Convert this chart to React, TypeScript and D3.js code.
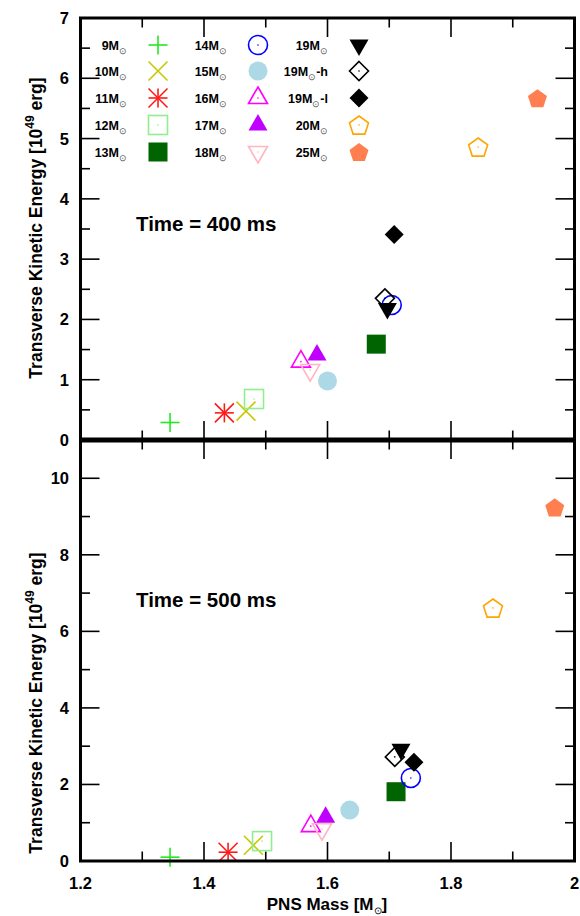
import React from "react";
import * as d3 from "d3";

// Progenitor models (legend order: column-major, 5 rows x 3 columns)
const modelMass = ["9", "10", "11", "12", "13", "14", "15", "16", "17", "18", "19", "19", "19", "20", "25"];
const modelSuffix = ["", "", "", "", "", "", "", "", "", "", "", "-h", "-l", "", ""];
const markerShape = [
  "plus", "cross", "star", "squareOpen", "squareFilled",
  "circleOpen", "circleFilled", "triUpOpen", "triUpFilled", "triDownOpen",
  "triDownFilled", "diamondOpen", "diamondFilled", "pentOpen", "pentFilled",
];
const markerColor = [
  "#22e822", "#c8c800", "#ff1a1a", "#90ee90", "#006400",
  "#0000ff", "#add8e6", "#ff00ff", "#c000ff", "#ffb6c1",
  "#000000", "#000000", "#000000", "#ffa500", "#ff7f50",
];

// t = 400 ms
const pnsMass400 = [1.345, 1.468, 1.433, 1.481, 1.679, 1.704, 1.600, 1.557, 1.583, 1.572, 1.697, 1.693, 1.708, 1.844, 1.940];
const ekin400 = [0.29, 0.48, 0.45, 0.68, 1.59, 2.24, 0.98, 1.30, 1.41, 1.16, 2.18, 2.35, 3.41, 4.86, 5.67];
// t = 500 ms
const pnsMass500 = [1.345, 1.480, 1.439, 1.494, 1.711, 1.735, 1.636, 1.573, 1.597, 1.591, 1.719, 1.709, 1.740, 1.868, 1.968];
const ekin500 = [0.10, 0.41, 0.23, 0.52, 1.81, 2.17, 1.33, 0.91, 1.14, 0.83, 2.92, 2.72, 2.58, 6.61, 9.24];

const xTickLabels = ["1.2", "1.4", "1.6", "1.8", "2"];
const yTicksTop = [0, 1, 2, 3, 4, 5, 6, 7];
const yTicksBottom = [0, 2, 4, 6, 8, 10];

const W = 580;
const H = 916;
const left = 80.5;
const right = 574.5;
const topY = 18;
const sepY = 440;
const botY = 861;
const FONT = "'Liberation Sans', Arial, Helvetica, sans-serif";

const x = d3.scaleLinear().domain([1.2, 2.0]).range([left, right]);
const yTop = d3.scaleLinear().domain([0, 7]).range([sepY, topY]);
const yBot = d3.scaleLinear().domain([0, 11]).range([botY, sepY]);

function Marker({ shape, color, cx, cy }: { shape: string; color: string; cx: number; cy: number }) {
  const sw = 1.6;
  const s = 9.5;
  const dot = <circle cx={cx} cy={cy} r={0.8} fill={color} />;
  const poly = (pts: [number, number][]) => {
    const p = d3.path();
    pts.forEach(([a, b], i) => (i === 0 ? p.moveTo(cx + a, cy + b) : p.lineTo(cx + a, cy + b)));
    p.closePath();
    return p.toString();
  };
  const pent = (r: number): [number, number][] =>
    d3.range(5).map((i) => {
      const a = -Math.PI / 2 + (i * 2 * Math.PI) / 5;
      return [r * Math.cos(a), r * Math.sin(a) + 1];
    });
  switch (shape) {
    case "plus":
      return (
        <g stroke={color} strokeWidth={sw}>
          <line x1={cx - s} y1={cy} x2={cx + s} y2={cy} />
          <line x1={cx} y1={cy - s} x2={cx} y2={cy + s} />
        </g>
      );
    case "cross":
      return (
        <g stroke={color} strokeWidth={sw}>
          <line x1={cx - s} y1={cy - s} x2={cx + s} y2={cy + s} />
          <line x1={cx - s} y1={cy + s} x2={cx + s} y2={cy - s} />
        </g>
      );
    case "star":
      return (
        <g stroke={color} strokeWidth={sw}>
          <line x1={cx - s} y1={cy} x2={cx + s} y2={cy} />
          <line x1={cx} y1={cy - s} x2={cx} y2={cy + s} />
          <line x1={cx - s} y1={cy - s} x2={cx + s} y2={cy + s} />
          <line x1={cx - s} y1={cy + s} x2={cx + s} y2={cy - s} />
        </g>
      );
    case "squareOpen":
      return (
        <g>
          <rect x={cx - s} y={cy - s} width={2 * s} height={2 * s} fill="none" stroke={color} strokeWidth={sw} />
          {dot}
        </g>
      );
    case "squareFilled":
      return <rect x={cx - s} y={cy - s} width={2 * s} height={2 * s} fill={color} />;
    case "circleOpen":
      return (
        <g>
          <circle cx={cx} cy={cy} r={s} fill="none" stroke={color} strokeWidth={sw} />
          {dot}
        </g>
      );
    case "circleFilled":
      return <circle cx={cx} cy={cy} r={s} fill={color} />;
    case "triUpOpen":
      return (
        <g>
          <path d={poly([[0, -11], [9.5, 5.5], [-9.5, 5.5]])} fill="none" stroke={color} strokeWidth={sw} />
          {dot}
        </g>
      );
    case "triUpFilled":
      return <path d={poly([[0, -11], [9.5, 5.5], [-9.5, 5.5]])} fill={color} />;
    case "triDownOpen":
      return (
        <g>
          <path d={poly([[0, 11], [9.5, -5.5], [-9.5, -5.5]])} fill="none" stroke={color} strokeWidth={sw} />
          {dot}
        </g>
      );
    case "triDownFilled":
      return <path d={poly([[0, 11], [9.5, -5.5], [-9.5, -5.5]])} fill={color} />;
    case "diamondOpen":
      return (
        <g>
          <path d={poly([[0, -s], [s, 0], [0, s], [-s, 0]])} fill="none" stroke={color} strokeWidth={sw} />
          {dot}
        </g>
      );
    case "diamondFilled":
      return <path d={poly([[0, -s], [s, 0], [0, s], [-s, 0]])} fill={color} />;
    case "pentOpen":
      return (
        <g>
          <path d={poly(pent(10))} fill="none" stroke={color} strokeWidth={sw} />
          {dot}
        </g>
      );
    case "pentFilled":
      return <path d={poly(pent(10))} fill={color} />;
    default:
      return null;
  }
}

function Panel({
  y,
  masses,
  energies,
  majorY,
  minorY,
  ymax,
  label,
  labelY,
}: {
  y: d3.ScaleLinear<number, number>;
  masses: number[];
  energies: number[];
  majorY: number;
  minorY: number;
  ymax: number;
  label: string;
  labelY: number;
}) {
  const [y0, y1] = y.range();
  const xMajor = d3.range(1.2, 2.0001, 0.2).map((v) => +v.toFixed(2));
  const xMinor = d3.range(1.3, 2.0, 0.2).map((v) => +v.toFixed(2));
  const yMaj = d3.range(0, ymax + 0.001, majorY);
  const yMin = d3.range(minorY, ymax, majorY);
  const L = 19;
  const l = 9.5;
  return (
    <g>
      <g stroke="#000" strokeWidth={1.6}>
        {xMajor.map((v) => (
          <g key={"xM" + v}>
            <line x1={x(v)} x2={x(v)} y1={y0} y2={y0 - L} />
            <line x1={x(v)} x2={x(v)} y1={y1} y2={y1 + L} />
          </g>
        ))}
        {xMinor.map((v) => (
          <g key={"xm" + v}>
            <line x1={x(v)} x2={x(v)} y1={y0} y2={y0 - l} />
            <line x1={x(v)} x2={x(v)} y1={y1} y2={y1 + l} />
          </g>
        ))}
        {yMaj.map((v) => (
          <g key={"yM" + v}>
            <line x1={left} x2={left + L} y1={y(v)} y2={y(v)} />
            <line x1={right} x2={right - L} y1={y(v)} y2={y(v)} />
          </g>
        ))}
        {yMin.map((v) => (
          <g key={"ym" + v}>
            <line x1={left} x2={left + l} y1={y(v)} y2={y(v)} />
            <line x1={right} x2={right - l} y1={y(v)} y2={y(v)} />
          </g>
        ))}
      </g>
      {masses.map((m, i) => (
        <Marker key={i} shape={markerShape[i]} color={markerColor[i]} cx={x(m)} cy={y(energies[i])} />
      ))}
      <text x={136} y={labelY} fontFamily={FONT} fontWeight="bold" fontSize={20.5}>
        {label}
      </text>
    </g>
  );
}

function Legend() {
  const colX = [127, 227, 328];
  const markX = [158, 258, 359];
  const rowY = [45, 71, 98, 125, 152];
  return (
    <g>
      {modelMass.map((mm, i) => {
        const c = Math.floor(i / 5);
        const r = i % 5;
        return (
          <g key={i}>
            <text x={colX[c]} y={rowY[r] + 4.5} textAnchor="end" fontFamily={FONT} fontWeight="bold" fontSize={12.5}>
              {mm}M
              <tspan fontSize={9} fontWeight="normal" fill="#555" dy={4}>
                {"\u2299"}
              </tspan>
              {modelSuffix[i] ? <tspan dy={-4}>{modelSuffix[i]}</tspan> : null}
            </text>
            <Marker shape={markerShape[i]} color={markerColor[i]} cx={markX[c]} cy={rowY[r]} />
          </g>
        );
      })}
    </g>
  );
}

function YTitle({ cy }: { cy: number }) {
  return (
    <text
      transform={`translate(42,${cy}) rotate(-90)`}
      textAnchor="middle"
      fontFamily={FONT}
      fontWeight="bold"
      fontSize={17.5}
    >
      Transverse Kinetic Energy [10
      <tspan fontSize={12} dy={-8}>
        49
      </tspan>
      <tspan dy={8}> erg]</tspan>
    </text>
  );
}

export default function App() {
  return (
    <svg width={W} height={H} style={{ position: "absolute", left: 0, top: 0, background: "#fff" }}>
      <rect width={W} height={H} fill="#fff" />
      <Panel y={yTop} masses={pnsMass400} energies={ekin400} majorY={1} minorY={0.5} ymax={7} label="Time = 400 ms" labelY={231} />
      <Panel y={yBot} masses={pnsMass500} energies={ekin500} majorY={2} minorY={1} ymax={11} label="Time = 500 ms" labelY={607} />
      <Legend />
      {/* frames */}
      <rect x={left} y={topY} width={right - left} height={botY - topY} fill="none" stroke="#000" strokeWidth={3} />
      <line x1={left} x2={right} y1={sepY} y2={sepY} stroke="#000" strokeWidth={5} />
      {/* y tick labels */}
      <g fontFamily={FONT} fontWeight="bold" fontSize={16.5} textAnchor="end">
        {yTicksTop.map((v) => (
          <text key={"t" + v} x={69} y={yTop(v) + 6}>
            {v}
          </text>
        ))}
        {yTicksBottom.map((v) => (
          <text key={"b" + v} x={69} y={yBot(v) + 6}>
            {v}
          </text>
        ))}
      </g>
      {/* x tick labels */}
      <g fontFamily={FONT} fontWeight="bold" fontSize={16.5} textAnchor="middle">
        {xTickLabels.map((t) => (
          <text key={t} x={x(+t)} y={889}>
            {t}
          </text>
        ))}
      </g>
      <text x={327} y={910} textAnchor="middle" fontFamily={FONT} fontWeight="bold" fontSize={17}>
        PNS Mass [M
        <tspan fontSize={10} fontWeight="normal" dy={4}>
          {"\u2299"}
        </tspan>
        <tspan dy={-4}>]</tspan>
      </text>
      <YTitle cy={228} />
      <YTitle cy={703} />
    </svg>
  );
}
